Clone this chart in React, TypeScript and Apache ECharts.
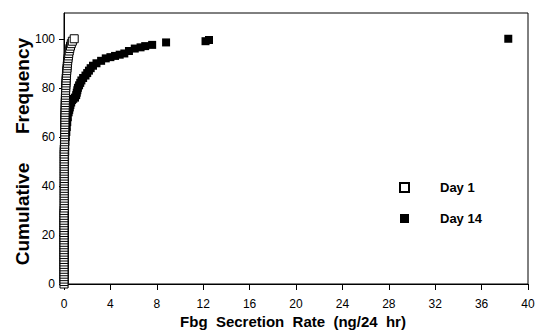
import React, { useEffect, useRef } from "react";
import * as echarts from "echarts";

const xTicks = [0, 4, 8, 12, 16, 20, 24, 28, 32, 36, 40];
const yTicks = [0, 20, 40, 60, 80, 100];

const day1Freq = [
  0, 1, 2, 3, 4, 5, 6, 7, 8, 9, 10, 11, 12, 13, 14, 15, 16, 17, 18, 19, 20,
  21, 22, 23, 24, 25, 26, 27, 28, 29, 30, 31, 32, 33, 34, 35, 36, 37, 38, 39, 40,
  41, 42, 43, 44, 45, 46, 47, 48, 49, 50, 51, 52, 53, 54, 55, 56, 57, 58, 59, 60,
  61, 62, 63, 64, 65, 66, 67, 68, 69, 70, 71, 72, 73, 74, 75, 76, 77, 78, 79, 80,
  81, 82, 83, 84, 85, 86, 87, 88, 89, 90, 91, 92, 93, 94, 95, 96, 97, 98, 99, 100,
];
const day1Rate = [
  0.0, 0.0, 0.0, 0.0, 0.0, 0.0, 0.0, 0.0, 0.0, 0.0, 0.0,
  0.0, 0.0, 0.0, 0.0, 0.0, 0.0, 0.0, 0.0, 0.0, 0.0,
  0.0, 0.0, 0.0, 0.0, 0.0, 0.0, 0.0, 0.0, 0.0, 0.0,
  0.02, 0.02, 0.02, 0.02, 0.02, 0.02, 0.02, 0.02, 0.02, 0.02,
  0.02, 0.02, 0.02, 0.02, 0.02, 0.02, 0.02, 0.02, 0.02, 0.02,
  0.02, 0.02, 0.02, 0.02, 0.02,
  0.04, 0.04, 0.05, 0.05, 0.05, 0.06, 0.06, 0.06, 0.07, 0.07,
  0.08, 0.08, 0.08, 0.09, 0.09, 0.1, 0.1, 0.11, 0.11, 0.12,
  0.12, 0.13, 0.13, 0.14, 0.15, 0.16, 0.17, 0.18, 0.19, 0.21,
  0.22, 0.24, 0.26, 0.28, 0.3, 0.32, 0.35, 0.38, 0.41, 0.45,
  0.5, 0.56, 0.63, 0.72, 0.88,
];

const day14Freq = [
  0, 2, 4, 6, 8, 10, 12, 14, 16, 18, 20, 22, 24, 26, 28, 30, 32, 34, 36, 38,
  40, 42, 44, 46, 48, 50, 52, 54, 56, 58, 60, 62, 64, 66, 68, 70, 71, 72, 73,
  74, 75, 75.5, 76, 77, 78, 79, 80, 81, 82, 83, 84, 85, 86, 87, 88, 89, 90, 91,
  92, 92.5, 93, 93.5, 94, 95, 96, 96.5, 97, 97.5, 98.5, 99, 99.5, 100,
];
const day14Rate = [
  0.02, 0.02, 0.02, 0.03, 0.03, 0.03, 0.03, 0.04, 0.04, 0.04, 0.04, 0.05,
  0.05, 0.05, 0.05, 0.06, 0.06, 0.06, 0.06, 0.07, 0.07, 0.07, 0.08, 0.08,
  0.08, 0.09, 0.09, 0.1, 0.1, 0.12, 0.15, 0.2, 0.24, 0.28, 0.33, 0.4, 0.45,
  0.5, 0.55, 0.62, 0.7, 0.8, 0.95, 1.05, 1.1, 1.15, 1.2, 1.3, 1.4, 1.5, 1.65,
  1.85, 2.0, 2.15, 2.3, 2.5, 2.8, 3.2, 3.6, 4.0, 4.4, 4.8, 5.2, 5.6, 6.1, 6.6,
  7.0, 7.6, 8.8, 12.2, 12.5, 38.3,
];

const FONT = "'Liberation Sans', Arial, Helvetica, sans-serif";

export default function App() {
  const ref = useRef<HTMLDivElement>(null);
  useEffect(() => {
    if (!ref.current) return;
    const chart = echarts.init(ref.current, undefined, { renderer: "svg" });
    const d1 = day1Rate.map((x, i) => [x, day1Freq[i]]);
    const d14 = day14Rate.map((x, i) => [x, day14Freq[i]]);
    chart.setOption({
      animation: false,
      backgroundColor: "#fff",
      grid: {
        left: 64,
        right: 10,
        top: 13,
        bottom: 46,
        show: true,
        borderColor: "#000",
        borderWidth: 1,
        backgroundColor: "transparent",
        containLabel: false,
        outerBoundsMode: "none",
      },
      xAxis: {
        type: "value",
        min: 0,
        max: 40,
        interval: 4,
        axisLine: { lineStyle: { color: "#000", width: 1 } },
        axisTick: { show: true, length: 6, lineStyle: { color: "#000" }, customValues: xTicks },
        axisLabel: { margin: 14, fontFamily: FONT, fontSize: 12, color: "#000", customValues: xTicks },
        splitLine: { show: false },
      },
      yAxis: {
        type: "value",
        min: 0,
        max: 110.5,
        axisLine: { show: true, lineStyle: { color: "#000", width: 1 } },
        axisTick: { show: true, length: 5, lineStyle: { color: "#000" }, customValues: yTicks },
        axisLabel: { margin: 9, fontFamily: FONT, fontSize: 12, color: "#000", customValues: yTicks },
        splitLine: { show: false },
      },
      legend: {
        orient: "vertical",
        left: 394,
        top: 176,
        itemWidth: 9,
        itemHeight: 9,
        itemGap: 18,
        icon: "rect",
        data: ["Day 1", "Day 14"],
        textStyle: {
          fontFamily: FONT,
          fontWeight: "bold",
          fontSize: 13,
          color: "#000",
          padding: [0, 0, 0, 26],
        },
      },
      graphic: [
        {
          type: "text",
          x: 22,
          y: 214,
          rotation: Math.PI / 2,
          style: {
            text: "Cumulative",
            fontFamily: FONT,
            fontWeight: "bold",
            fontSize: 19,
            fill: "#000",
            align: "center",
            verticalAlign: "middle",
          },
        },
        {
          type: "text",
          x: 22,
          y: 86,
          rotation: Math.PI / 2,
          style: {
            text: "Frequency",
            fontFamily: FONT,
            fontWeight: "bold",
            fontSize: 19,
            fill: "#000",
            align: "center",
            verticalAlign: "middle",
          },
        },
        {
          type: "text",
          x: 293,
          y: 321,
          style: {
            text: "Fbg  Secretion  Rate  (ng/24  hr)",
            fontFamily: FONT,
            fontWeight: "bold",
            fontSize: 15,
            fill: "#000",
            align: "center",
            verticalAlign: "middle",
          },
        },
      ],
      series: [
        {
          name: "Day 14",
          type: "scatter",
          symbol: "rect",
          symbolSize: 8,
          itemStyle: { color: "#000", borderColor: "#000", borderWidth: 0, opacity: 1 },
          data: d14,
          z: 2,
        },
        {
          name: "Day 1",
          type: "scatter",
          symbol: "rect",
          symbolSize: 8,
          itemStyle: { color: "#fff", borderColor: "#000", borderWidth: 1, opacity: 1 },
          data: d1,
          z: 3,
        },
      ],
    });
    return () => chart.dispose();
  }, []);
  return (
    <div
      ref={ref}
      style={{ position: "fixed", left: 0, top: 0, width: 538, height: 330 }}
    />
  );
}
